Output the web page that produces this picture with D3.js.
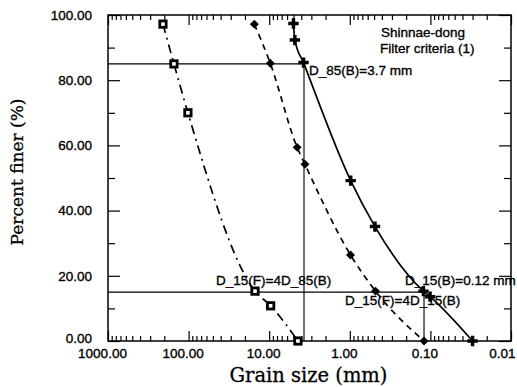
<!DOCTYPE html>
<html>
<head>
<meta charset="utf-8">
<script src="https://cdn.jsdelivr.net/npm/d3@7"></script>
<style>
  body { margin: 0; background: #fff; }
  svg text { fill: #000; }
  .tick text, .note { font-family: "Liberation Sans", Arial, sans-serif; font-size: 13.5px; stroke: #000; stroke-width: 0.35px; }
  .title { font-family: "DejaVu Serif", serif; stroke: #000; stroke-width: 0.3px; }
</style>
</head>
<body>
<div id="chart"></div>
<script>
// grain size (mm) and percent finer
const sqSize = [208, 152, 102, 15.0, 9.6, 4.4];
const sqPct = [97.2, 85.0, 70.0, 15.3, 10.8, 0];

const diaSize = [15.3, 9.7, 4.5, 3.6, 0.98, 0.48, 0.12];
const diaPct = [97.2, 85.2, 59.4, 54.2, 26.4, 15.3, 0];

const crSize = [5.0, 4.8, 3.75, 0.975, 0.487, 0.122, 0.101, 0.03];
const crPct = [97.4, 92.3, 85.4, 49.2, 35.1, 15.3, 13.6, 0];

const xMajor = [1000, 100, 10, 1, 0.1, 0.01];
const yMajor = [0, 20, 40, 60, 80, 100];
const yMinor = [10, 30, 50, 70, 90];

// criteria lines
const d85B = 3.7, d15B = 0.12;

const width = 517, height = 387;
const margin = { top: 15, right: 6, bottom: 46, left: 108 };

const x = d3.scaleLog().domain([1000, 0.01]).range([margin.left, width - margin.right]);
const y = d3.scaleLinear().domain([0, 100]).range([height - margin.bottom, margin.top]);

const xMinor = [];
[0.01, 0.1, 1, 10, 100].forEach(d => { for (let k = 2; k <= 9; k++) xMinor.push(k * d); });

const svg = d3.select("#chart").append("svg")
  .attr("width", width)
  .attr("height", height);

const x0 = x.range()[0], x1 = x.range()[1], y0 = y.range()[0], y1 = y.range()[1];

function cleanAxis(g) {
  g.select(".domain").remove();
  g.selectAll(".tick line").attr("stroke", "#000").attr("stroke-width", 1.2);
}

// bottom axis: labels + major ticks
svg.append("g")
  .attr("transform", `translate(0,${y0})`)
  .call(d3.axisBottom(x).tickValues(xMajor).tickFormat(d3.format(".2f")).tickSizeInner(-10).tickSizeOuter(0).tickPadding(7))
  .call(cleanAxis)
  .call(g => g.selectAll(".tick text").attr("dx", -6))
  .call(g => g.selectAll(".tick text").filter(d => d === 0.01).attr("text-anchor", "end").attr("dx", 4));
svg.append("g")
  .attr("transform", `translate(0,${y0})`)
  .call(d3.axisBottom(x).tickValues(xMinor).tickFormat("").tickSizeInner(-5).tickSizeOuter(0))
  .call(cleanAxis);
// top axis
svg.append("g")
  .attr("transform", `translate(0,${y1})`)
  .call(d3.axisTop(x).tickValues(xMajor).tickFormat("").tickSizeInner(-10).tickSizeOuter(0))
  .call(cleanAxis);
svg.append("g")
  .attr("transform", `translate(0,${y1})`)
  .call(d3.axisTop(x).tickValues(xMinor).tickFormat("").tickSizeInner(-5).tickSizeOuter(0))
  .call(cleanAxis);

// left axis
svg.append("g")
  .attr("transform", `translate(${x0},0)`)
  .call(d3.axisLeft(y).tickValues(yMajor).tickFormat(d3.format(".2f")).tickSizeInner(-12).tickSizeOuter(0).tickPadding(16))
  .call(cleanAxis)
  .call(g => g.selectAll(".tick text").filter(d => d === 0).attr("dy", "0.1em"));
svg.append("g")
  .attr("transform", `translate(${x0},0)`)
  .call(d3.axisLeft(y).tickValues(yMinor).tickFormat("").tickSizeInner(-7).tickSizeOuter(0))
  .call(cleanAxis);
// right axis
svg.append("g")
  .attr("transform", `translate(${x1},0)`)
  .call(d3.axisRight(y).tickValues(yMajor).tickFormat("").tickSizeInner(-12).tickSizeOuter(0))
  .call(cleanAxis);
svg.append("g")
  .attr("transform", `translate(${x1},0)`)
  .call(d3.axisRight(y).tickValues(yMinor).tickFormat("").tickSizeInner(-7).tickSizeOuter(0))
  .call(cleanAxis);

// frame
svg.append("rect")
  .attr("x", x0).attr("y", y1)
  .attr("width", x1 - x0).attr("height", y0 - y1)
  .attr("fill", "none").attr("stroke", "#000").attr("stroke-width", 1.5);

// criteria lines
const guide = svg.append("g").attr("stroke", "#000").attr("stroke-width", 1.1).attr("fill", "none");
guide.append("path").attr("d", `M${x0},${y(85)}H${x(d85B)}V${y(0)}`);
guide.append("path").attr("d", `M${x0},${y(15)}H${x(d15B)}V${y(0)}`);

const zip = (s, p) => s.map((d, i) => ({ size: d, pct: p[i] }));
const sq = zip(sqSize, sqPct), dia = zip(diaSize, diaPct), cr = zip(crSize, crPct);

const line = d3.line().x(d => x(d.size)).y(d => y(d.pct)).curve(d3.curveMonotoneX);

svg.append("path").datum(sq).attr("d", line)
  .attr("fill", "none").attr("stroke", "#000").attr("stroke-width", 1.7)
  .attr("stroke-dasharray", "9,5,2,5");
svg.append("path").datum(dia).attr("d", line)
  .attr("fill", "none").attr("stroke", "#000").attr("stroke-width", 1.7)
  .attr("stroke-dasharray", "6,5");
svg.append("path").datum(cr).attr("d", line)
  .attr("fill", "none").attr("stroke", "#000").attr("stroke-width", 1.7);

// markers
svg.selectAll("rect.sq").data(sq).join("rect")
  .attr("class", "sq")
  .attr("x", d => x(d.size) - 3.2).attr("y", d => y(d.pct) - 3.2)
  .attr("width", 6.4).attr("height", 6.4)
  .attr("fill", "#fff").attr("stroke", "#000").attr("stroke-width", 2.8);

svg.selectAll("path.dia").data(dia).join("path")
  .attr("class", "dia")
  .attr("d", d3.symbol(d3.symbolSquare, 40))
  .attr("transform", d => `translate(${x(d.size)},${y(d.pct)}) rotate(45)`)
  .attr("fill", "#000");

svg.selectAll("path.cr").data(cr).join("path")
  .attr("class", "cr")
  .attr("d", d3.symbol(d3.symbolCross, 60))
  .attr("transform", d => `translate(${x(d.size)},${y(d.pct)})`)
  .attr("fill", "#000");

// notes
const notes = [
  { t: "Shinnae-dong", x: 381, y: 37 },
  { t: "Filter criteria (1)", x: 380, y: 53 },
  { t: "D_85(B)=3.7 mm", x: 309, y: 75 },
  { t: "D_15(F)=4D_85(B)", x: 216, y: 285 },
  { t: "D_15(B)=0.12 mm", x: 405, y: 285 },
  { t: "D_15(F)=4D_15(B)", x: 345, y: 305 }
];
svg.selectAll("text.note").data(notes).join("text")
  .attr("class", "note")
  .attr("x", d => d.x).attr("y", d => d.y)
  .text(d => d.t);

// axis titles
svg.append("text").attr("class", "title")
  .attr("x", (x0 + x1) / 2 - 1).attr("y", 382)
  .attr("text-anchor", "middle")
  .attr("font-size", 19.5)
  .text("Grain size (mm)");
svg.append("text").attr("class", "title")
  .attr("transform", `translate(23,${(y0 + y1) / 2 - 6}) rotate(-90)`)
  .attr("text-anchor", "middle")
  .attr("font-size", 17)
  .text("Percent finer (%)");
</script>
</body>
</html>
